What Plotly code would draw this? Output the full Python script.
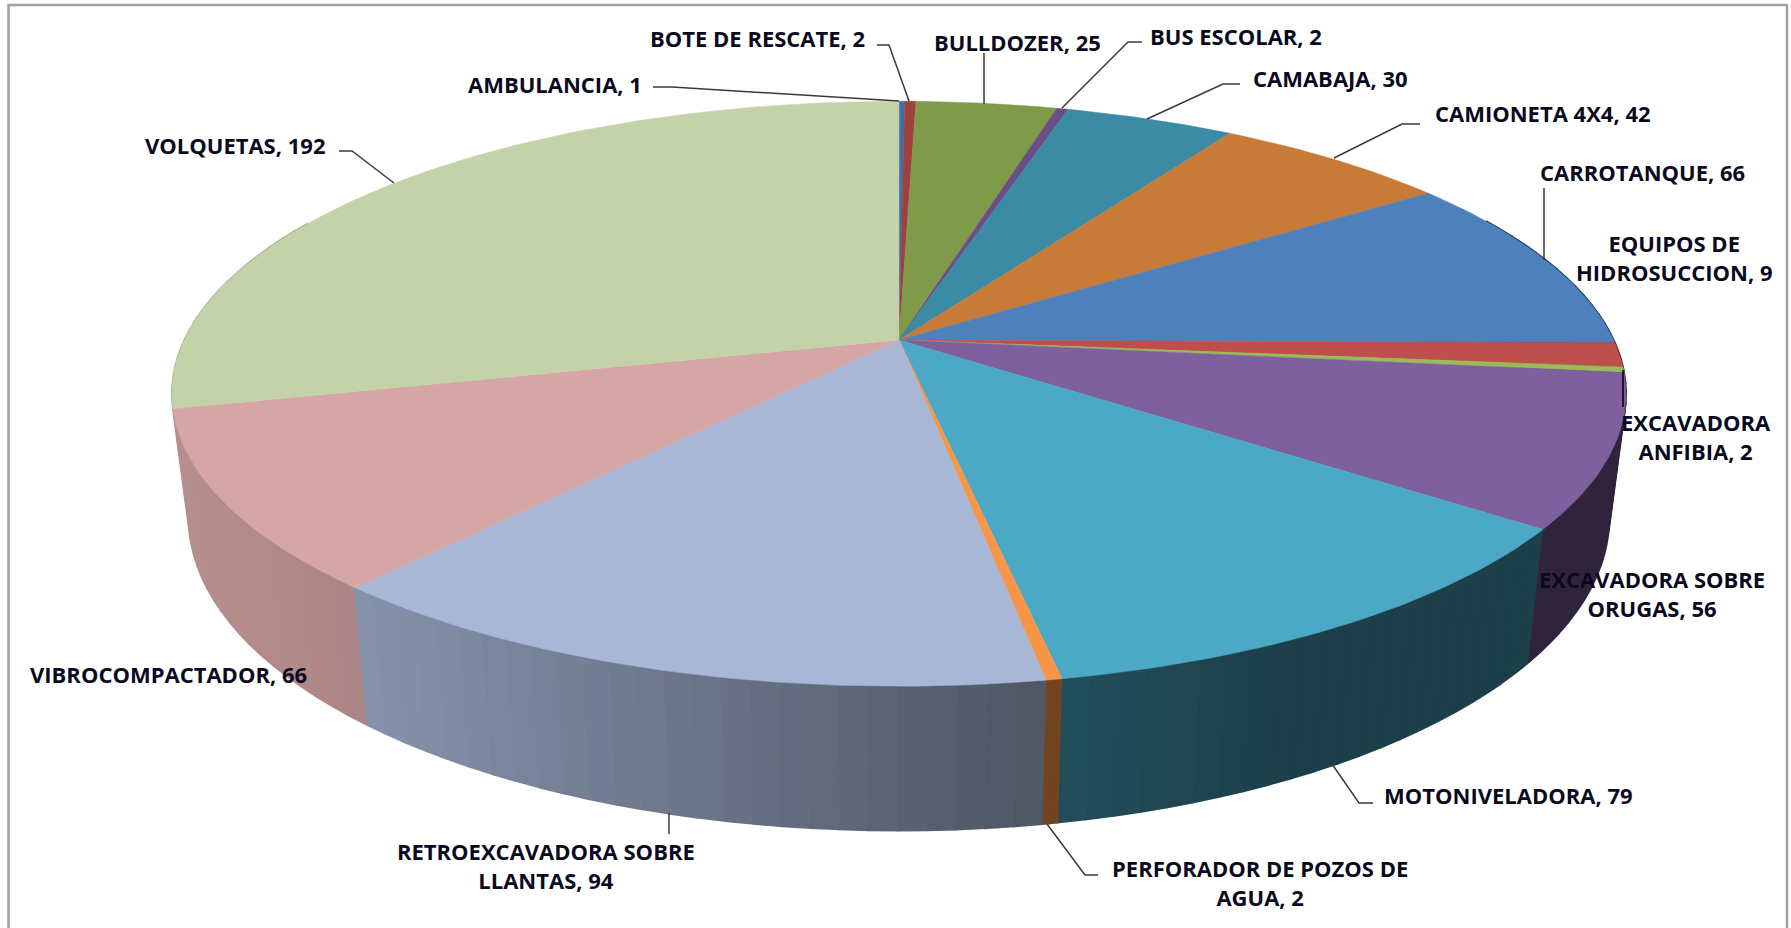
import numpy as np
import plotly.graph_objects as go

# ---- data ----
names = ["AMBULANCIA", "BOTE DE RESCATE", "BULLDOZER", "BUS ESCOLAR", "CAMABAJA", "CAMIONETA 4X4",
         "CARROTANQUE", "EQUIPOS DE HIDROSUCCION", "EXCAVADORA ANFIBIA", "EXCAVADORA SOBRE ORUGAS",
         "MOTONIVELADORA", "PERFORADOR DE POZOS DE AGUA", "RETROEXCAVADORA SOBRE LLANTAS",
         "VIBROCOMPACTADOR", "VOLQUETAS"]
values = [1, 2, 25, 2, 30, 42, 66, 9, 2, 56, 79, 2, 94, 66, 192]
colors = ["#3F6FA8", "#9E413E", "#7F9A48", "#6A4E86", "#3B8BA5", "#C87A38",
          "#4E80BC", "#BD4F4C", "#9BBB59", "#7F609E", "#4BA9C5", "#F79646",
          "#A8B7D6", "#D6A6A6", "#C3D2A9"]
label_text = ["AMBULANCIA, 1", "BOTE DE RESCATE, 2", "BULLDOZER, 25", "BUS ESCOLAR, 2", "CAMABAJA, 30",
              "CAMIONETA 4X4, 42", "CARROTANQUE, 66", "EQUIPOS DE<br>HIDROSUCCION, 9",
              "EXCAVADORA<br>ANFIBIA, 2", "EXCAVADORA SOBRE<br>ORUGAS, 56", "MOTONIVELADORA, 79",
              "PERFORADOR DE POZOS DE<br>AGUA, 2", "RETROEXCAVADORA SOBRE<br>LLANTAS, 94",
              "VIBROCOMPACTADOR, 66", "VOLQUETAS, 192"]
label_x = [555, 757, 1017, 1236, 1330, 1543, 1642, 1674, 1696, 1652, 1508, 1260, 546, 168, 235]
label_y = [84, 38, 42, 36, 78, 113, 172, 257, 436, 593, 795, 882, 865, 674, 145]

leaders = [
    [(653, 87), (672, 87), (899, 101)],
    [(877, 45), (889, 45), (909, 101)],
    [(984, 53), (984, 104)],
    [(1142, 42), (1128, 42), (1062, 108)],
    [(1240, 84), (1223, 84), (1147, 119)],
    [(1420, 124), (1402, 124), (1334, 158)],
    [(1544, 188), (1544, 260)],
    [(1623, 370), (1623, 407)],
    [(1373, 803), (1359, 803), (1332, 764)],
    [(1098, 875), (1085, 875), (1047, 824)],
    [(669, 813), (669, 834)],
    [(339, 151), (352, 151), (394, 183)],
]

# ---- projection of the tilted disc ----
CX, CY, A, B, K = 899.0, 340.0, 714.6, 282.6, 0.1837
DEPTH, SX, SY = 120.0, 0.977, 1.07


def top(theta):
    u, v = np.sin(theta), -np.cos(theta)
    d = 1 - K * v
    return A * u / d, B * v / d


def px(theta):
    x, y = top(theta)
    return CX + x, CY + y


def low(theta):
    x, y = top(theta)
    return CX + SX * x, CY + DEPTH + SY * y


def shade(hex_color, x):
    f = np.interp(x, [170, 360, 1040, 1300, 1650], [0.86, 0.80, 0.47, 0.37, 0.38])
    r, g, b = (int(hex_color[i:i + 2], 16) for i in (1, 3, 5))
    return f"rgb({r * f:.0f},{g * f:.0f},{b * f:.0f})"


fig = go.Figure()
edges = np.cumsum([0] + values) / sum(values) * 2 * np.pi

# side wall, cut into narrow strips so that the shade can vary
strips = []
for i, c in enumerate(colors):
    n = max(2, int(np.degrees(edges[i + 1] - edges[i]) / 2.0) + 1)
    t = np.linspace(edges[i], edges[i + 1], n + 1)
    for a, b in zip(t[:-1], t[1:]):
        mid = (a + b) / 2
        if np.cos(mid) < 0.45:
            strips.append((-np.cos(mid), a, b, c))
strips.sort(key=lambda s: s[0])
for _, a, b, c in strips:
    ts = np.linspace(a, b, 3)
    tx, ty = px(ts)
    lx, ly = low(ts[::-1])
    col = shade(c, float(np.mean(tx)))
    fig.add_trace(go.Scatter(x=np.r_[tx, lx], y=np.r_[ty, ly], mode="lines", fill="toself",
                             fillcolor=col, line=dict(color=col, width=2), hoverinfo="skip"))

# top faces
for i, c in enumerate(colors):
    ts = np.linspace(edges[i], edges[i + 1], max(3, int(np.degrees(edges[i + 1] - edges[i])) + 2))
    tx, ty = px(ts)
    fig.add_trace(go.Scatter(x=np.r_[CX, tx, CX], y=np.r_[CY, ty, CY], mode="lines", fill="toself",
                             fillcolor=c, line=dict(color=c, width=0.5), name=names[i],
                             text=[f"{names[i]}: {values[i]}"] * (len(ts) + 2), hoverinfo="text"))

# leader lines
for pts in leaders:
    xs, ys = zip(*pts)
    dark = "#000000" if xs[0] == 1623 else "#3a3a3a"
    fig.add_trace(go.Scatter(x=xs, y=ys, mode="lines", line=dict(color=dark, width=1.5), hoverinfo="skip"))

# labels
for t, x, y in zip(label_text, label_x, label_y):
    fig.add_annotation(x=x, y=y, text=t, showarrow=False, xanchor="center", yanchor="middle", align="center",
                       font=dict(family="Open Sans, Liberation Sans, sans-serif", size=22,
                                 color="#0a0a1e", weight="bold"))

# chart frame
fig.add_shape(type="rect", x0=8.5, y0=5, x1=1787, y1=940, line=dict(color="#A0A0A0", width=2.5), layer="below")

fig.update_layout(width=1791, height=928, margin=dict(l=0, r=0, t=0, b=0), showlegend=False,
                  paper_bgcolor="white", plot_bgcolor="white",
                  xaxis=dict(range=[0, 1791], visible=False, fixedrange=True),
                  yaxis=dict(range=[928, 0], visible=False, fixedrange=True))
fig.write_html("out.html", config=dict(displayModeBar=False),
               post_script="document.body.style.margin='0';document.documentElement.style.overflow='hidden';")
